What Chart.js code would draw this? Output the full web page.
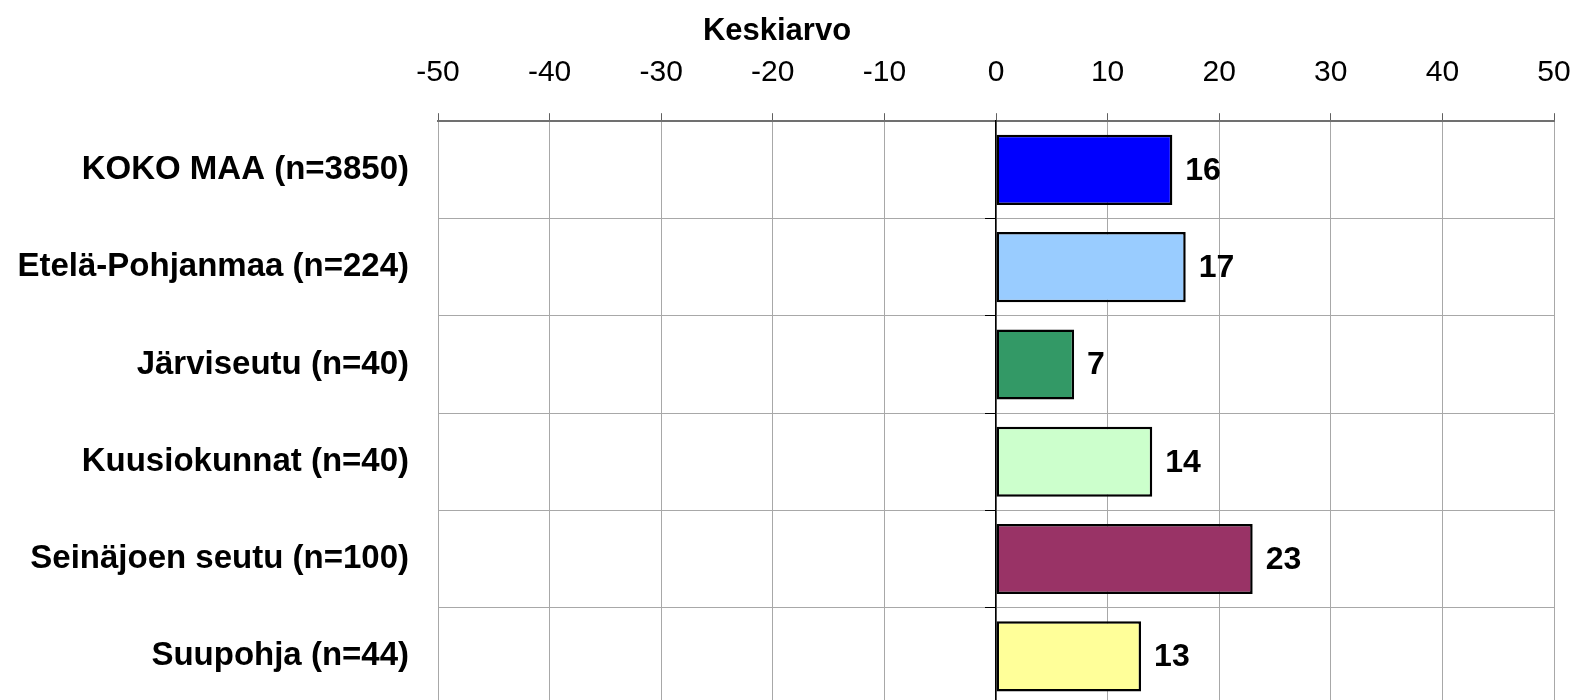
<!DOCTYPE html>
<html>
<head>
<meta charset="utf-8">
<script src="https://cdn.jsdelivr.net/npm/chart.js@4"></script>
<style>
  html, body { margin: 0; padding: 0; background: #fff; overflow: hidden; }
  #wrap { width: 1578px; height: 706px; }
</style>
</head>
<body>
<div id="wrap"><canvas id="keskiarvoChart"></canvas></div>
<script>
const alueet = ["KOKO MAA (n=3850)", "Etelä-Pohjanmaa (n=224)", "Järviseutu (n=40)",
  "Kuusiokunnat (n=40)", "Seinäjoen seutu (n=100)", "Suupohja (n=44)"];
const keskiarvot = [15.8, 17, 7, 14, 23, 13];
const varit = ["#0000FF", "#99CCFF", "#339966", "#CCFFCC", "#993366", "#FFFF99"];

const fontti = "'Liberation Sans', Arial, sans-serif";

// arvot palkkien perään
const arvoTekstit = {
  id: "arvoTekstit",
  afterDatasetsDraw(chart) {
    const ctx = chart.ctx;
    ctx.save();
    ctx.font = "bold 32px " + fontti;
    ctx.fillStyle = "#000";
    ctx.textAlign = "left";
    ctx.textBaseline = "middle";
    chart.getDatasetMeta(0).data.forEach((bar, i) => {
      ctx.fillText(Math.round(keskiarvot[i]), bar.x + 13, bar.y + 1);
    });
    ctx.restore();
  }
};

new Chart(document.getElementById("keskiarvoChart"), {
  type: "bar",
  data: {
    labels: alueet,
    datasets: [{
      data: keskiarvot,
      backgroundColor: varit,
      borderColor: "#000",
      borderWidth: 2.5,
      borderSkipped: false,
      barPercentage: 0.72,
      categoryPercentage: 1
    }]
  },
  options: {
    indexAxis: "y",
    responsive: true,
    maintainAspectRatio: false,
    animation: false,
    layout: { padding: { top: 0, right: 24, bottom: 1, left: 0 } },
    plugins: {
      legend: { display: false },
      tooltip: { enabled: false },
      title: {
        display: true,
        text: "Keskiarvo",
        color: "#000",
        font: { family: fontti, size: 31, weight: "bold" },
        padding: { top: 13, bottom: 5 }
      }
    },
    scales: {
      x: {
        position: "top",
        min: -50,
        max: 50,
        ticks: {
          stepSize: 10,
          color: "#000",
          padding: 22,
          maxRotation: 0,
          font: { family: fontti, size: 30 }
        },
        grid: { color: "#a8a8a8", tickColor: "#606060", tickLength: 8, lineWidth: 1 },
        border: { color: "#707070", width: 2 },
        afterFit(scale) {
          scale.height = 66;
          scale.paddingLeft = 0;
          scale.paddingRight = 0;
        }
      },
      y: {
        ticks: {
          color: "#000",
          padding: 29,
          font: { family: fontti, size: 33, weight: "bold" }
        },
        grid: { color: "#a8a8a8", offset: true, drawTicks: false },
        border: { display: false },
        afterFit(scale) {
          scale.width = 438;
          scale.paddingTop = 0;
          scale.paddingBottom = 0;
        }
      },
      nolla: {
        type: "category",
        axis: "y",
        position: { x: 0 },
        offset: true,
        ticks: { display: false },
        grid: { drawOnChartArea: false, offset: true, tickLength: 10, color: "#000" },
        border: { color: "#000", width: 1.5 },
        afterFit(scale) {
          scale.width = 0;
          scale.paddingTop = 0;
          scale.paddingBottom = 0;
        }
      }
    }
  },
  plugins: [arvoTekstit]
});
</script>
</body>
</html>
